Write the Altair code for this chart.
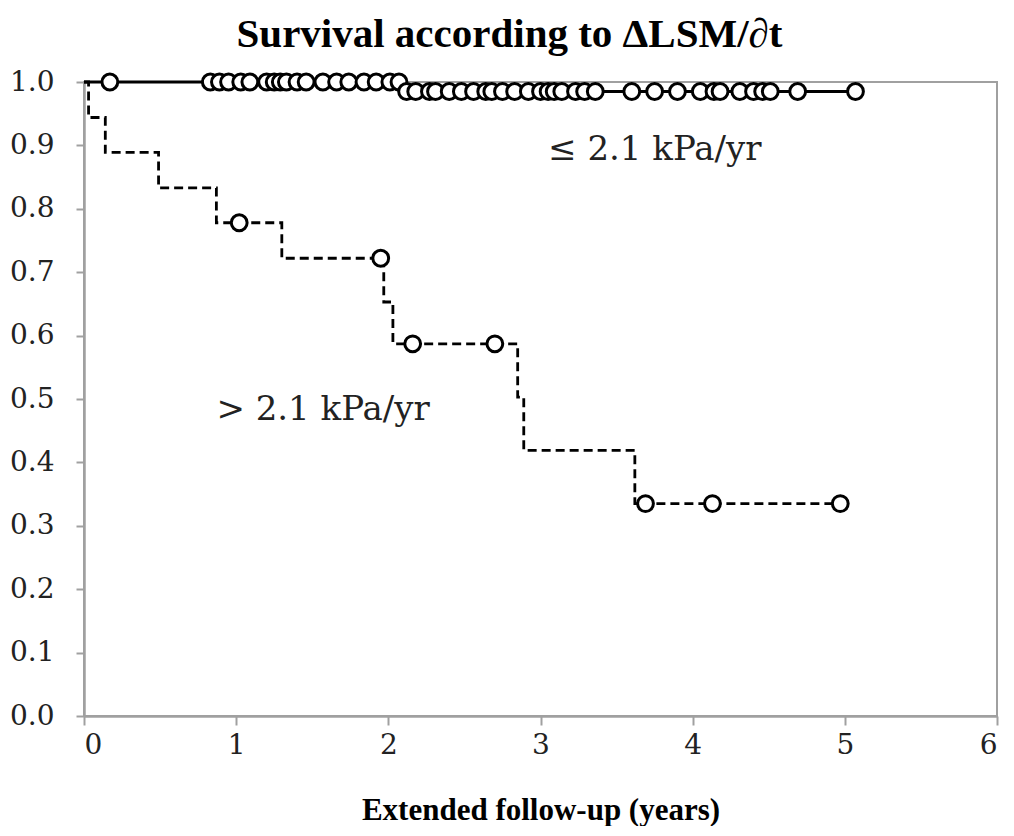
import altair as alt
import pandas as pd

# ---- group "≤ 2.1 kPa/yr" (solid line) ----
slow_step_t = [0.0, 2.08, 5.07]
slow_step_s = [1.0, 0.985, 0.985]
slow_cens_top_t = [0.17, 0.83, 0.89, 0.95, 1.03, 1.09, 1.20, 1.25, 1.29, 1.33,
                   1.40, 1.46, 1.57, 1.66, 1.74, 1.84, 1.92, 2.01, 2.07]
slow_cens_low_t = [2.12, 2.18, 2.27, 2.31, 2.40, 2.48, 2.56, 2.64, 2.68, 2.75,
                   2.83, 2.92, 3.00, 3.05, 3.09, 3.14, 3.23, 3.29, 3.36, 3.60,
                   3.75, 3.90, 4.05, 4.14, 4.18, 4.31, 4.40, 4.46, 4.51, 4.69, 5.07]

# ---- group "> 2.1 kPa/yr" (dashed line) ----
fast_step_t = [0.0, 0.03, 0.14, 0.49, 0.87, 1.30, 1.97, 2.03, 2.85, 2.89, 3.62, 4.97]
fast_step_s = [1.0, 0.944, 0.889, 0.833, 0.778, 0.722, 0.653, 0.587, 0.503, 0.419, 0.335, 0.335]
fast_cens_t = [1.02, 1.95, 2.16, 2.70, 3.69, 4.13, 4.97]
fast_cens_s = [0.778, 0.722, 0.587, 0.587, 0.335, 0.335, 0.335]

# ---- annotations ----
label_text = ["≤ 2.1 kPa/yr", "> 2.1 kPa/yr"]
label_t = [3.05, 0.87]
label_s = [0.893, 0.483]

x_ticks = [0, 1, 2, 3, 4, 5, 6]
y_ticks = [0.0, 0.1, 0.2, 0.3, 0.4, 0.5, 0.6, 0.7, 0.8, 0.9, 1.0]

slow_line = pd.DataFrame({"t": slow_step_t, "s": slow_step_s})
fast_line = pd.DataFrame({"t": fast_step_t, "s": fast_step_s})
cens = pd.DataFrame({
    "t": slow_cens_top_t + slow_cens_low_t + fast_cens_t,
    "s": [1.0] * len(slow_cens_top_t) + [0.985] * len(slow_cens_low_t) + fast_cens_s,
})
labels = pd.DataFrame({"label": label_text, "t": label_t, "s": label_s})

X = alt.X("t:Q", scale=alt.Scale(domain=[0, 6], nice=False, zero=False),
          axis=alt.Axis(values=x_ticks, format="d", title="Extended follow-up (years)",
                        tickSize=9, labelPadding=6, titlePadding=36))
Y = alt.Y("s:Q", scale=alt.Scale(domain=[0, 1], nice=False),
          axis=alt.Axis(values=y_ticks, format=".1f", title=None,
                        tickSize=8, labelPadding=22))

l1 = alt.Chart(slow_line).mark_line(interpolate="step-after", color="black",
                                    strokeWidth=2.8).encode(x=X, y=Y)
l2 = alt.Chart(fast_line).mark_line(interpolate="step-after", color="black",
                                    strokeWidth=2.8, strokeDash=[9, 5]).encode(x=X, y=Y)
pts = alt.Chart(cens).mark_point(shape="circle", filled=True, fill="white",
                                 stroke="black", strokeWidth=3, size=250,
                                 opacity=1).encode(x=X, y=Y)
txt = alt.Chart(labels).mark_text(align="left", baseline="middle", font="DejaVu Serif",
                                  fontSize=34, color="#222222").encode(
    x=X, y=Y, text="label:N")

chart = alt.layer(l1, l2, pts, txt).properties(
    width=913, height=634,
    padding={"left": 76, "top": 74, "right": 8, "bottom": 110},
    autosize=alt.AutoSizeParams(type="none"),
    title=alt.TitleParams("Survival according to ΔLSM/∂t", font="Liberation Serif",
                          fontSize=41, fontWeight="bold", anchor="middle",
                          offset=12, dx=-31, color="black"),
).configure_view(stroke="#a0a0a0", strokeWidth=2).configure_axis(
    grid=False, domainColor="#a0a0a0", domainWidth=2.5, tickColor="#a0a0a0",
    tickWidth=2, labelFont="DejaVu Serif", labelFontSize=28, labelColor="#222222",
    titleFont="Liberation Serif", titleFontSize=31, titleFontWeight="bold",
    titleColor="black",
)

chart.save("out.html", embed_options={"renderer": "svg", "actions": False})
